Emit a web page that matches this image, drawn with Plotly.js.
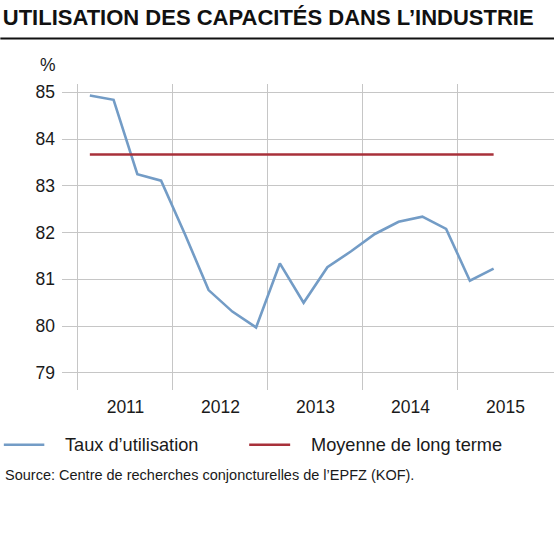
<!DOCTYPE html>
<html>
<head>
<meta charset="utf-8">
<script src="https://cdn.plot.ly/plotly-3.0.1.min.js"></script>
<style>
  html, body { margin: 0; padding: 0; background: #fff; }
  #chart { width: 554px; height: 557px; }
</style>
</head>
<body>
<div id="chart"></div>
<script>
// ---- data ----
const quarters = [
  "2011 T1","2011 T2","2011 T3","2011 T4",
  "2012 T1","2012 T2","2012 T3","2012 T4",
  "2013 T1","2013 T2","2013 T3","2013 T4",
  "2014 T1","2014 T2","2014 T3","2014 T4",
  "2015 T1","2015 T2"
];
const utilisation = [
  84.93, 84.84, 83.25, 83.11,
  81.97, 80.77, 80.31, 79.97,
  81.34, 80.50, 81.26, 81.60,
  81.97, 82.23, 82.34, 82.08,
  80.97, 81.23
];
const longTermMean = 83.67;
const seriesNames = ["Taux d\u2019utilisation", "Moyenne de long terme"];
const yearLabels = ["2011","2012","2013","2014","2015"];
const yTicks = [79, 80, 81, 82, 83, 84, 85];

// position of each quarter on a numeric time axis (middle of the quarter)
function quarterPos(q) {
  const parts = q.split(" T");
  return Number(parts[0]) + (Number(parts[1]) - 0.5) / 4;
}
const xq = quarters.map(quarterPos);
const yearMid = yearLabels.map(y => Number(y) + 0.5);

const blue = "#739cc6";
const red = "#a8313a";
const colors = [blue, red];
const grid = "#c6c6c6";
const font = "'Liberation Sans', Arial, sans-serif";

// plot-area geometry helpers (pixels -> paper fractions)
const L = 61.7, T = 84, W = 492.3, H = 306;
const px = x => (x - L) / W;
const py = y => (T + H - y) / H;

const traces = [
  {
    x: xq, y: utilisation, type: "scatter", mode: "lines",
    name: seriesNames[0], showlegend: false,
    line: { color: blue, width: 2.6 }
  },
  {
    x: [xq[0], xq[xq.length - 1]], y: [longTermMean, longTermMean],
    type: "scatter", mode: "lines",
    name: seriesNames[1], showlegend: false,
    line: { color: red, width: 2.6 }
  }
];

// legend (drawn manually for exact placement)
const legendY = py(444.7);
const legendItems = [
  { x0: 3.5, x1: 44, tx: 62.5 },
  { x0: 249, x1: 290, tx: 308.5 }
];
const legendShapes = legendItems.map((it, i) => ({
  type: "line", xref: "paper", yref: "paper",
  x0: px(it.x0), x1: px(it.x1), y0: legendY, y1: legendY,
  line: { color: colors[i], width: 2.6 }
}));
const legendTexts = legendItems.map((it, i) => ({
  text: seriesNames[i], xref: "paper", yref: "paper",
  x: px(it.tx), y: legendY, xanchor: "left", yanchor: "middle",
  showarrow: false, font: { size: 18.2, color: "#1a1a1a" }
}));

const layout = {
  width: 554, height: 557,
  margin: { l: L, r: 0, t: T, b: 557 - T - H },
  paper_bgcolor: "#fff", plot_bgcolor: "#fff",
  font: { family: font, size: 17.5, color: "#1a1a1a" },
  title: {
    text: "<b>UTILISATION DES CAPACITÉS DANS L\u2019INDUSTRIE</b>",
    xref: "container", x: 0.005, xanchor: "left",
    yref: "container", y: 1 - 17.6 / 557, yanchor: "middle",
    font: { family: font, size: 22, color: "#111" }
  },
  xaxis: {
    range: [2010.832, 2016.0105],
    tickmode: "array", tickvals: yearMid, ticktext: yearLabels,
    ticks: "", showgrid: false, zeroline: false, showline: false,
    ticklabelstandoff: 4,
    tickfont: { size: 17.5, color: "#1a1a1a" },
    minor: { tick0: 2011, dtick: 1, showgrid: true, gridcolor: grid, gridwidth: 1, ticks: "" },
    fixedrange: true
  },
  yaxis: {
    range: [78.633, 85.178],
    tickmode: "array", tickvals: yTicks,
    ticks: "", showgrid: true, gridcolor: grid, gridwidth: 1,
    zeroline: false, showline: false,
    ticklabelstandoff: 6,
    tickfont: { size: 17.5, color: "#1a1a1a" },
    fixedrange: true
  },
  showlegend: false,
  shapes: [
    {
      type: "line", xref: "paper", yref: "paper",
      x0: px(0), x1: 1, y0: py(38.5), y1: py(38.5),
      line: { color: "#111", width: 2 }
    }
  ].concat(legendShapes),
  annotations: [
    {
      text: "%", xref: "paper", yref: "paper",
      x: px(47.6), y: py(65.3),
      xanchor: "center", yanchor: "middle", showarrow: false,
      font: { size: 17.5, color: "#1a1a1a" }
    },
    {
      text: "Source: Centre de recherches conjoncturelles de l\u2019EPFZ (KOF).",
      xref: "paper", yref: "paper",
      x: px(3), y: py(474.7),
      xanchor: "left", yanchor: "middle", showarrow: false,
      font: { size: 14.5, color: "#1a1a1a" }
    }
  ].concat(legendTexts)
};

Plotly.newPlot("chart", traces, layout, { displayModeBar: false, staticPlot: true });
</script>
</body>
</html>
